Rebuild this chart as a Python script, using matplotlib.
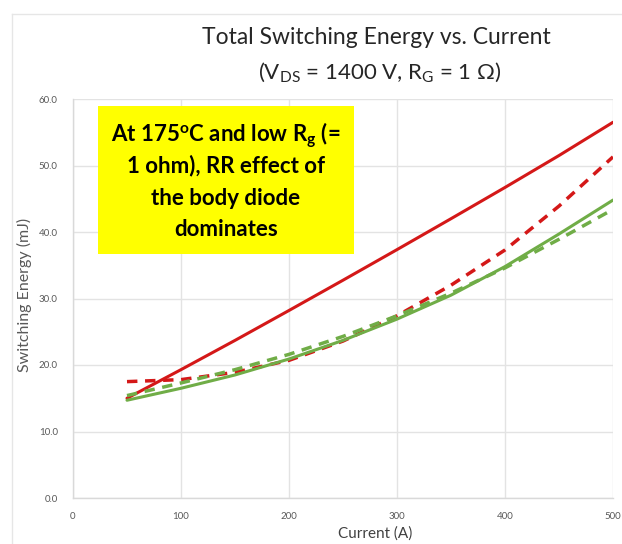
import matplotlib
matplotlib.use("Agg")
import matplotlib.pyplot as plt
from matplotlib.lines import Line2D
from matplotlib.patches import Rectangle

plt.rcParams['font.family'] = ['Lato', 'DejaVu Sans']
plt.rcParams['mathtext.fontset'] = 'custom'
plt.rcParams['mathtext.rm'] = 'Lato'
plt.rcParams['mathtext.it'] = 'Lato:italic'
plt.rcParams['mathtext.bf'] = 'Lato:bold'

current = [50, 100, 150, 200, 250, 300, 350, 400, 450, 500]
red_solid = [15.0, 19.3, 23.7, 28.2, 32.75, 37.35, 42.0, 46.7, 51.5, 56.5]
red_dashed = [17.5, 17.8, 18.9, 20.7, 23.6, 27.4, 32.0, 37.3, 43.9, 51.3]
green_solid = [14.7, 16.5, 18.5, 20.9, 23.7, 26.9, 30.5, 34.8, 39.7, 44.8]
green_dashed = [15.4, 17.3, 19.3, 21.6, 24.3, 27.4, 30.8, 34.6, 38.9, 43.4]

x_ticks = [0, 100, 200, 300, 400, 500]
y_ticks = [0, 10, 20, 30, 40, 50, 60]

RED = '#d41818'
GREEN = '#70ad47'

fig = plt.figure(figsize=(6.22, 5.44), dpi=100)
ax = fig.add_axes([73/622, 46/544, 540/622, 399/544])

ax.plot(current, red_solid, color=RED, lw=2.2, solid_capstyle='round')
ax.plot(current, red_dashed, color=RED, lw=2.5, dashes=(3, 2.2))
ax.plot(current, green_solid, color=GREEN, lw=2.2, solid_capstyle='round')
ax.plot(current, green_dashed, color=GREEN, lw=2.5, dashes=(3, 2.2))

ax.set_xlim(0, 500)
ax.set_ylim(0, 60)
ax.set_xticks(x_ticks)
ax.set_yticks(y_ticks)
ax.set_xticklabels([str(t) for t in x_ticks])
ax.set_yticklabels([f"{t:.1f}" for t in y_ticks])
ax.tick_params(length=0, labelsize=7, colors='#595959', pad=10)
ax.tick_params(axis='y', pad=11)
ax.grid(True, color='#e3e3e3', lw=1.0)
ax.set_axisbelow(True)
for s in ['top', 'right']:
    ax.spines[s].set_visible(False)
for s in ['left', 'bottom']:
    ax.spines[s].set_color('#d9d9d9')
    ax.spines[s].set_linewidth(1.0)

ax.set_xlabel('Current (A)', fontsize=11, color='#404040')
ax.xaxis.set_label_coords(0.56, -0.072)
ax.set_ylabel('Switching Energy (mJ)', fontsize=11.5, color='#595959', va='center')
ax.yaxis.set_label_coords(-0.089, 0.51)

fig.text(376/622, 1 - 37/544, 'Total Switching Energy vs. Current', ha='center', va='center',
         fontsize=16.5, color='#262626')
fig.text(380/622, 1 - 72/544, r'(V$_{\mathrm{DS}}$ = 1400 V, R$_{\mathrm{G}}$ = 1 Ω)', ha='center', va='center',
         fontsize=16, color='#262626')

# annotation box
fig.patches.append(Rectangle((98/622, 1 - 254/544), 256/622, 148/544, transform=fig.transFigure,
                             facecolor='#ffff00', edgecolor='none', zorder=5))
lines_txt = [r'At 175$^{\mathbf{o}}$C and low R$_{\mathbf{g}}$ (=', '1 ohm), RR effect of',
             'the body diode', 'dominates']
ys = [135, 166, 199, 230]
for t, yy in zip(lines_txt, ys):
    fig.text(226/622, 1 - yy/544, t, ha='center', va='center', fontsize=16, fontweight='bold',
             color='black', zorder=6)

# frame lines of screenshot
fig.add_artist(Line2D([12/622, 12/622], [0, 1 - 14/544], transform=fig.transFigure, color='#e6e6e6', lw=1))
fig.add_artist(Line2D([12/622, 1], [1 - 14/544, 1 - 14/544], transform=fig.transFigure, color='#e6e6e6', lw=1))

fig.savefig('out.png', dpi=100)
